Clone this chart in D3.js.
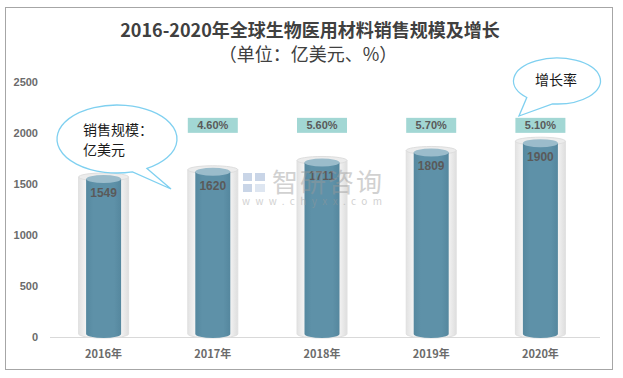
<!DOCTYPE html>
<html><head><meta charset="utf-8">
<script src="https://cdn.jsdelivr.net/npm/d3@7"></script>
<style>body{margin:0;background:#fff;}svg{display:block;font-family:"Noto Sans CJK SC","Noto Sans",sans-serif;}</style>
</head><body>
<svg id="c" width="623" height="378"></svg>
<script>
const categories = ["2016年","2017年","2018年","2019年","2020年"];
const sales = [1549,1620,1711,1809,1900];
const growth = [null,"4.60%","5.60%","5.70%","5.10%"];
const yTicks = [0,500,1000,1500,2000,2500];
const titleLines = ["2016-2020年全球生物医用材料销售规模及增长","（单位：亿美元、%）"];

const svg = d3.select("#c");
const defs = svg.append("defs");
const g1 = defs.append("linearGradient").attr("id","glass").attr("x1","0").attr("x2","1");
[["0%","#e2e2e2"],["15%","#f4f4f4"],["85%","#f2f2f2"],["100%","#dedede"]].forEach(s=>g1.append("stop").attr("offset",s[0]).attr("stop-color",s[1]));
const g2 = defs.append("linearGradient").attr("id","blue").attr("x1","0").attr("x2","1");
[["0%","#55889f"],["20%","#5e91a8"],["80%","#5e91a8"],["100%","#55879e"]].forEach(s=>g2.append("stop").attr("offset",s[0]).attr("stop-color",s[1]));

// frame
svg.append("rect").attr("x",5.5).attr("y",7.5).attr("width",607).attr("height",362)
  .attr("fill","#fff").attr("stroke","#a6a6a6");

const x = d3.scaleBand().domain(categories).range([49,595]);
const y = d3.scaleLinear().domain([0,2500]).range([337,82]);

// title
svg.append("text").attr("x",310).attr("y",37).attr("text-anchor","middle")
  .attr("font-size",18).attr("font-weight","bold").attr("fill","#404040").text(titleLines[0]);
svg.append("text").attr("x",308).attr("y",61).attr("text-anchor","middle")
  .attr("font-size",18).attr("fill","#404040").text(titleLines[1]);

// y axis labels
svg.append("g").selectAll("text").data(yTicks).join("text")
  .attr("x",38).attr("y",d=>y(d)+4).attr("text-anchor","end")
  .attr("font-size",11).attr("font-weight","bold").attr("fill","#6b6b6b")
  .attr("font-family","'Liberation Sans',sans-serif").text(d=>d);

// baseline
svg.append("line").attr("x1",50).attr("x2",600).attr("y1",y(0)+0.5).attr("y2",y(0)+0.5)
  .attr("stroke","#d9d9d9");

// x labels
svg.append("g").selectAll("text").data(categories).join("text")
  .attr("x",d=>x(d)+x.bandwidth()/2).attr("y",358).attr("text-anchor","middle")
  .attr("font-size",11).attr("font-weight","bold").attr("fill","#6b6b6b").text(d=>d);

// cylinders
const oW = 25, iW = 17.5, ry = 4;
const bars = svg.append("g").selectAll("g").data(categories).join("g");
bars.each(function(c,i){
  const gg = d3.select(this);
  const cx = x(c)+x.bandwidth()/2;
  const top = y(sales[i]);
  const bot = y(0)-3;
  const ot = top-2;
  gg.append("path")
    .attr("d",`M${cx-oW},${ot} L${cx-oW},${bot} A${oW},${ry} 0 0 0 ${cx+oW},${bot} L${cx+oW},${ot} Z`)
    .attr("fill","url(#glass)").attr("stroke","#e0e0e0");
  gg.append("ellipse").attr("cx",cx).attr("cy",ot).attr("rx",oW).attr("ry",ry)
    .attr("fill","#ececec").attr("stroke","#dedede");
  gg.append("path")
    .attr("d",`M${cx-iW},${top} L${cx-iW},${bot} A${iW},${ry} 0 0 0 ${cx+iW},${bot} L${cx+iW},${top} Z`)
    .attr("fill","url(#blue)");
  gg.append("ellipse").attr("cx",cx).attr("cy",top).attr("rx",iW).attr("ry",ry)
    .attr("fill","#9bbccb");
  gg.append("text").attr("x",cx).attr("y",top+18).attr("text-anchor","middle")
    .attr("font-size",12).attr("font-weight","bold").attr("fill","#5a5a5a")
    .attr("font-family","'Liberation Sans',sans-serif").text(sales[i]);
});

// watermark (on top)
const wm = svg.append("g").attr("opacity",0.45);
wm.append("rect").attr("x",243).attr("y",173).attr("width",9).attr("height",8).attr("fill","#8aa3cc");
wm.append("rect").attr("x",255).attr("y",173).attr("width",10).attr("height",8).attr("fill","#8aa3cc");
wm.append("rect").attr("x",243).attr("y",184).attr("width",9).attr("height",8).attr("fill","#8aa3cc");
wm.append("rect").attr("x",255).attr("y",184).attr("width",10).attr("height",8).attr("fill","#b8c8e2");
wm.append("text").attr("x",272).attr("y",192).attr("font-size",26).attr("fill","#9a9a9a").attr("textLength",110).text("智研咨询");
wm.append("text").attr("x",242).attr("y",205).attr("font-size",10).attr("fill","#9a9a9a").attr("textLength",140).text("www.chyxx.com");

// growth labels
const gl = svg.append("g").selectAll("g").data(categories.map((c,i)=>({c,v:growth[i]})).filter(d=>d.v)).join("g");
gl.append("rect").attr("x",d=>x(d.c)+x.bandwidth()/2-25).attr("y",y(2075)-7.5)
  .attr("width",50).attr("height",15).attr("fill","#a2d7d4");
gl.append("text").attr("x",d=>x(d.c)+x.bandwidth()/2).attr("y",y(2075)+4).attr("text-anchor","middle")
  .attr("font-size",11).attr("font-weight","bold").attr("fill","#5a5a5a")
  .attr("font-family","'Liberation Sans',sans-serif").text(d=>d.v);

// callouts
function callout(cx,cy,rx,ry,a1,a2,tip){
  const p = a=>[cx+rx*Math.cos(a*Math.PI/180), cy+ry*Math.sin(a*Math.PI/180)];
  const s = p(a1), e = p(a2);
  const d = `M${s[0]},${s[1]} A${rx},${ry} 0 1 0 ${e[0]},${e[1]} L${tip[0]},${tip[1]} Z`;
  svg.append("path").attr("d",d).attr("fill","#fff").attr("stroke","#7fd0f0").attr("stroke-width",1.3);
}
callout(117,139,60,34,60,75,[171,189]);
svg.append("text").attr("x",83).attr("y",135).attr("font-size",14).attr("fill","#1a1a1a").text("销售规模：");
svg.append("text").attr("x",83).attr("y",155).attr("font-size",14).attr("fill","#1a1a1a").text("亿美元");
callout(557,81,43.5,23,96,134,[519,116]);
svg.append("text").attr("x",556).attr("y",85).attr("text-anchor","middle").attr("font-size",14).attr("fill","#1a1a1a").text("增长率");
</script>
</body></html>
